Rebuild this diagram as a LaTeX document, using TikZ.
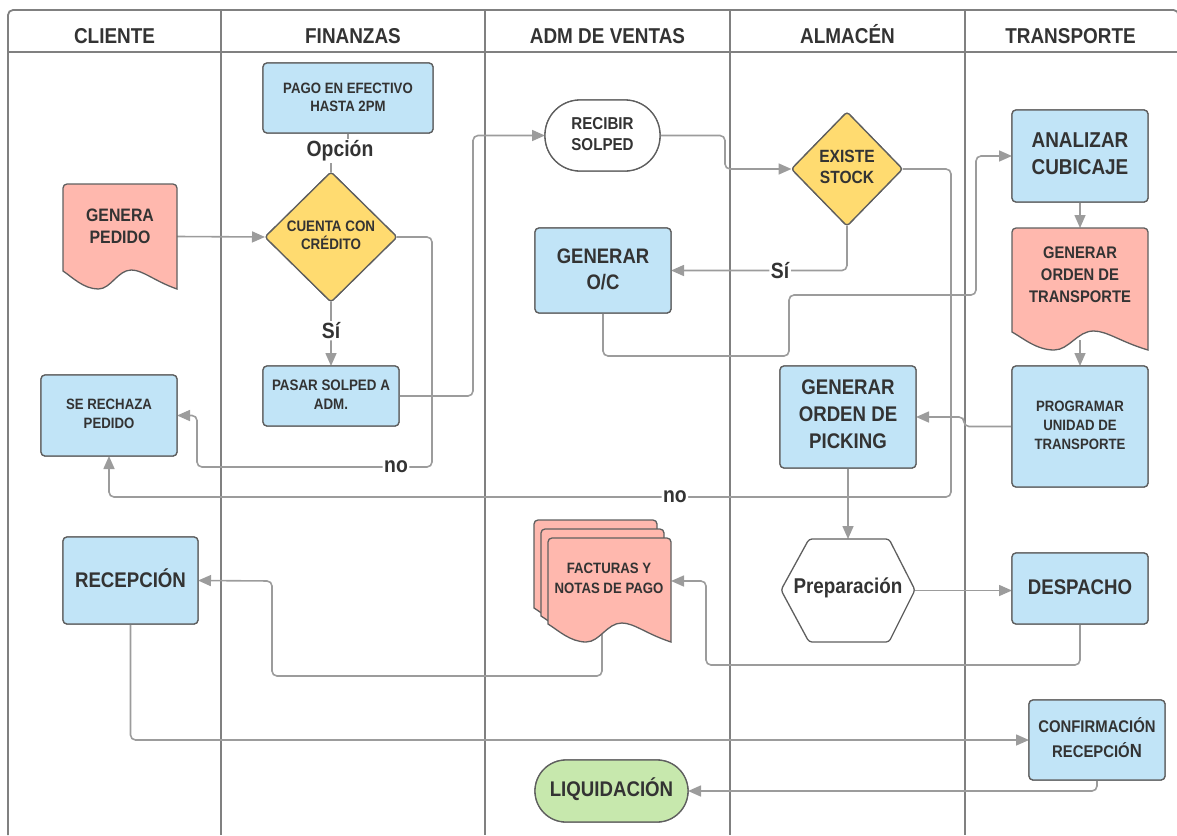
\documentclass[tikz,border=0pt]{standalone}
\usepackage{fontspec}
\setmainfont{Liberation Sans}[FakeStretch=0.88]
\usetikzlibrary{arrows.meta,shapes.geometric,calc}
\definecolor{bluef}{HTML}{C1E4F7}
\definecolor{redf}{HTML}{FFB8AE}
\definecolor{yelf}{HTML}{FFDB70}
\definecolor{grnf}{HTML}{C7E8AD}
\definecolor{edgec}{HTML}{5F5F5F}
\definecolor{connc}{HTML}{9C9C9C}
\definecolor{lanec}{HTML}{808080}
\definecolor{txtc}{HTML}{333333}
\newcommand\fHead{\fontsize{21.5}{24}\selectfont\bfseries}
\newcommand\fBig{\fontsize{21.2}{27}\selectfont\bfseries}
\newcommand\fSm{\fontsize{15}{19}\selectfont\bfseries}
\newcommand\docshape[5]{%
  \draw[shapeline, fill=#5] (#1,{#4-18}) -- (#1,{#2+4}) arc(180:270:4) -- ({#3-4},#2) arc(270:360:4) -- (#3,#4)
   .. controls ({#3-0.2*(#3-#1)},{#4-8}) and ({#1+0.7*(#3-#1)},{#4-19}) .. ({#1+0.6*(#3-#1)},{#4-19})
   .. controls ({#1+0.48*(#3-#1)},{#4-19}) and ({#1+0.42*(#3-#1)},{#4}) .. ({#1+0.31*(#3-#1)},{#4})
   .. controls ({#1+0.18*(#3-#1)},{#4}) and ({#1+0.08*(#3-#1)},{#4-12}) .. (#1,{#4-18}) -- cycle;}
\tikzset{
  shapeline/.style={draw=edgec, line width=1.3pt},
  proc/.style={shapeline, rounded corners=4pt, fill=bluef, text=txtc, align=center, inner sep=0pt, outer sep=0pt},
  dec/.style={shapeline, diamond, fill=yelf, text=txtc, align=center, inner sep=0pt, outer sep=0pt, rounded corners=3pt},
  term/.style={shapeline, text=txtc, align=center, inner sep=0pt, outer sep=0pt},
  hid/.style={inner sep=0pt, outer sep=0pt, draw=none},
  dtext/.style={text=txtc, align=center, inner sep=0pt},
  lanes/.style={draw=lanec, line width=1.8pt},
  link/.style={draw=connc, line width=1.6pt, rounded corners=5pt},
  conn/.style={link, -{Triangle[length=13pt,width=11pt]}},
  lbl/.style={fill=white, text=txtc, inner sep=1.5pt, font=\fontsize{22}{24}\selectfont\bfseries},
  hdr/.style={text=txtc, font=\fHead, anchor=base, inner sep=0pt},
}
\begin{document}
\begin{tikzpicture}[x=1pt,y=-1pt]
\useasboundingbox (0,0) rectangle (1177,835);
% frame and lanes
\draw[lanes, rounded corners=5pt] (8,835) -- (8,10) -- (1178.5,10) -- (1178.5,835);
\draw[lanes] (8,52) -- (1178.5,52);
\foreach \lx in {221,485,730,965} \draw[lanes] (\lx,10) -- (\lx,835);
\node[hdr] (h1) at (114.5,43) {CLIENTE};
\node[hdr] (h2) at (353,43) {FINANZAS};
\node[hdr] (h3) at (607.5,43) {ADM DE VENTAS};
\node[hdr] (h4) at (847.5,43) {ALMACÉN};
\node[hdr] (h5) at (1070.5,43) {TRANSPORTE};

% invisible anchor nodes for custom shapes
\node[hid, minimum width=114, minimum height=105] (gp) at (120,236.5) {};
\node[hid, minimum width=123, minimum height=104] (fac) at (609.5,590) {};
\node[hid, minimum width=136, minimum height=122] (trans) at (1080,289) {};
\node[hid, minimum width=134, minimum height=103] (prep) at (848,590.5) {};

% box nodes (geometry for connectors)
\path
  node[proc, minimum width=170, minimum height=70] (pago) at (348,98) {}
  node[dec, minimum width=132, minimum height=130] (cuenta) at (331,237) {}
  node[proc, minimum width=136, minimum height=81] (rech) at (109,415.5) {}
  node[proc, minimum width=136, minimum height=60] (pasar) at (331,396) {}
  node[proc, minimum width=135, minimum height=87] (recep) at (130.5,580.5) {}
  node[term, minimum width=115, minimum height=71, rounded corners=35pt] (recibir) at (602.5,135.5) {}
  node[proc, minimum width=136, minimum height=85] (oc) at (603,270.5) {}
  node[term, minimum width=153, minimum height=62, rounded corners=31pt] (liq) at (611.5,791) {}
  node[dec, minimum width=111, minimum height=114] (exist) at (847,169) {}
  node[proc, minimum width=136, minimum height=102] (pick) at (848,417) {}
  node[proc, minimum width=136, minimum height=92] (anal) at (1080,156) {}
  node[proc, minimum width=136, minimum height=121] (prog) at (1080,426.5) {}
  node[proc, minimum width=136, minimum height=71] (desp) at (1080,588.5) {}
  node[proc, minimum width=136, minimum height=80] (conf) at (1097,740) {};

% connectors
\draw[conn] (gp.east) -- (cuenta.west);
\node[lbl] (opc) at (340,151) {Opción};
\draw[link] (pago.south) -- (pago.south |- opc.north);
\draw[link] (cuenta.north |- opc.south) -- (cuenta.north);
\draw[conn] (cuenta.south) -- node[lbl, pos=0.45] (si1) {Sí} (pasar.north);
\draw[conn] (pasar.east) -- ++(74,0) |- (recibir.west);
\draw[conn] (cuenta.east) -- (432,237) -- (432,467) -- node[lbl, pos=0.153] (no1) {no} (197,467) |- (rech.east);
\draw[conn] (exist.east) -- (951,169) -- (951,497) -- node[lbl, pos=0.328] (no2) {no} (109,497) -- (rech.south);
\draw[conn] (recibir.east) -- (725,135.5) -- (725,169) -- (exist.west);
\draw[conn] (exist.south) |- node[lbl, pos=0.69] (si2) {Sí} (oc.east);
\draw[conn] (oc.south) -- (603,356) -- (789,356) -- (789,295) -- (976,295) |- (anal.west);
\draw[conn] (anal.south) -- (trans.north);
\draw[conn] ([yshift=10pt]trans.south) -- (prog.north);
\draw[conn] (prog.west) -- (964,426.5) -- (964,417) -- (pick.east);
\draw[conn] (pick.south) -- (prep.north);
\draw[conn] (prep.east) -- (desp.west |- prep.east);
\draw[conn] (desp.south) -- (1080,665) -- (706,665) -- (706,581) -- ([yshift=9pt]fac.east);
\draw[conn] ([xshift=-7.5pt]fac.center) -- (602,676) -- (272,676) -- (272,581) -- (recep.east);
\draw[conn] (recep.south) |- (conf.west);
\draw[conn] (conf.south) |- (liq.east);

% shapes on top
\path
  node[proc, minimum width=170, minimum height=70] (pago2) at (348,98) {}
  node[dec, minimum width=132, minimum height=130] (cuenta2) at (331,237) {}
  node[proc, minimum width=136, minimum height=81] (rech2) at (109,415.5) {}
  node[proc, minimum width=136, minimum height=60] (pasar2) at (331,396) {}
  node[proc, minimum width=135, minimum height=87] (recep2) at (130.5,580.5) {}
  node[term, fill=white, minimum width=115, minimum height=71, rounded corners=35pt] (recibir2) at (602.5,135.5) {}
  node[proc, minimum width=136, minimum height=85] (oc2) at (603,270.5) {}
  node[term, fill=grnf, minimum width=153, minimum height=62, rounded corners=31pt] (liq2) at (611.5,791) {}
  node[dec, minimum width=111, minimum height=114] (exist2) at (847,169) {}
  node[proc, minimum width=136, minimum height=102] (pick2) at (848,417) {}
  node[proc, minimum width=136, minimum height=92] (anal2) at (1080,156) {}
  node[proc, minimum width=136, minimum height=121] (prog2) at (1080,426.5) {}
  node[proc, minimum width=136, minimum height=71] (desp2) at (1080,588.5) {}
  node[proc, minimum width=136, minimum height=80] (conf2) at (1097,740) {};

\docshape{63}{184}{177}{289}{redf}
\docshape{1012}{228}{1148}{350}{redf}
\docshape{534}{520}{657}{626}{redf}
\docshape{541}{529}{664}{634}{redf}
\docshape{548}{538}{671}{642}{redf}
\draw[shapeline, fill=white, rounded corners=3pt] (809,539) -- (889,539) -- (915,590) -- (889,642) -- (809,642) -- (781,590) -- cycle;

% texts
\node[dtext, font=\fontsize{15}{18}\selectfont\bfseries] (tpago) at (348,97) {PAGO EN EFECTIVO\\HASTA 2PM};
\node[dtext, font=\fontsize{15.2}{18}\selectfont\bfseries] (tcuenta) at (331,235) {CUENTA CON\\CRÉDITO};
\node[dtext, font=\fontsize{18}{22}\selectfont\bfseries] (tgp) at (120,226) {GENERA\\PEDIDO};
\node[dtext, font=\fSm] (trech) at (109,413.5) {SE RECHAZA\\PEDIDO};
\node[dtext, font=\fontsize{15.2}{19}\selectfont\bfseries] (tpasar) at (331,394.5) {PASAR SOLPED A\\ADM.};
\node[dtext, font=\fBig] (trecep) at (130.5,578) {RECEPCIÓN};
\node[dtext, font=\fontsize{17.2}{21}\selectfont\bfseries] (trecibir) at (602.5,134) {RECIBIR\\SOLPED};
\node[dtext, font=\fontsize{21}{26}\selectfont\bfseries] (toc) at (603,269) {GENERAR\\O/C};
\node[dtext, font=\fontsize{15}{20}\selectfont\bfseries] (tfac) at (609,578) {FACTURAS Y\\NOTAS DE PAGO};
\node[dtext, font=\fBig] (tliq) at (611.5,789) {LIQUIDACIÓN};
\node[dtext, font=\fontsize{17.7}{21}\selectfont\bfseries] (texist) at (847,167) {EXISTE\\STOCK};
\node[dtext, font=\fBig] (tpick) at (848,414) {GENERAR\\ORDEN DE\\PICKING};
\node[dtext, font=\fontsize{21.4}{22}\selectfont\bfseries] (tprep) at (848,588) {Preparación};
\node[dtext, font=\fontsize{21.5}{27}\selectfont\bfseries] (tanal) at (1080,154) {ANALIZAR\\CUBICAJE};
\node[dtext, font=\fontsize{16.8}{22}\selectfont\bfseries] (ttrans) at (1080,275) {GENERAR\\ORDEN DE\\TRANSPORTE};
\node[dtext, font=\fSm] (tprog) at (1080,425) {PROGRAMAR\\UNIDAD DE\\TRANSPORTE};
\node[dtext, font=\fBig] (tdesp) at (1080,587) {DESPACHO};
\node[dtext, font=\fontsize{16.9}{25}\selectfont\bfseries] (tconf) at (1097,738) {CONFIRMACIÓN\\RECEPCIÓ{\fontsize{19}{25}\selectfont N}};
\end{tikzpicture}
\end{document}
